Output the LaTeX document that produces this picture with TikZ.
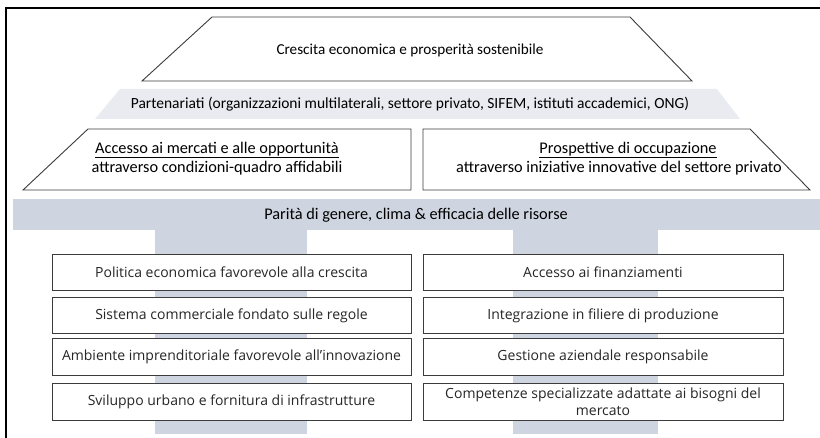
\documentclass[tikz,border=0pt]{standalone}
\usepackage{fontspec}
\setmainfont{Carlito}
\newfontfamily\boxfont{Open Sans}
\definecolor{pillargray}{HTML}{CFD5E0}
\definecolor{lightgray}{HTML}{E9EBF0}
\definecolor{linegray}{HTML}{3C3C3C}
\begin{document}
\begin{tikzpicture}[x=1pt,y=-1pt,
  edge/.style={draw=linegray, line width=0.9pt},
  card/.style={edge, fill=white},
  toptext/.style={font=\fontsize{15.2}{17}\selectfont, text=black, inner sep=0},
  midtext/.style={font=\fontsize{16.3}{18}\selectfont, text=black, inner sep=0},
  boxtext/.style={font=\boxfont\fontsize{14}{16.5}\selectfont, text=black!85, inner sep=0, align=center},
  lbox/.style={card, minimum width=359pt, minimum height=36pt, inner sep=1pt, boxtext},
  rbox/.style={card, minimum width=360pt, minimum height=36pt, inner sep=1pt, boxtext},
]
\useasboundingbox (0,0) rectangle (820,438);
% pillars and bands
\fill[pillargray] (155,229) rectangle (307,434);
\fill[pillargray] (513,229) rectangle (658,434);
\fill[pillargray] (13,199) rectangle (820,230);
\fill[lightgray] (120,89) -- (717,89) -- (740,119) -- (95,119) -- cycle;
% frame
\draw[black, line width=2pt] (6,438) -- (6,8) -- (820,8);
% top trapezoid
\draw[card] (212,17) -- (630,17) -- (692,81) -- (142,81) -- cycle;
\node[toptext] (top) at (410,50) {Crescita economica e prosperità sostenibile};
\node[toptext, font=\fontsize{15.5}{17}\selectfont] (part) at (410,104) {Partenariati (organizzazioni multilaterali, settore privato, SIFEM, istituti accademici, ONG)};
% middle trapezoids
\draw[card] (88,129) -- (411,129) -- (411,190) -- (23,190) -- cycle;
\draw[card] (423,129) -- (750,129) -- (810,190) -- (423,190) -- cycle;
\node[midtext] (acc1) at (217,150) {\underline{Accesso ai mercati e alle opportunità}};
\node[midtext] (acc2) at (217,168) {attraverso condizioni-quadro affidabili};
\node[midtext] (pro1) at (628,150) {\underline{Prospettive di occupazione}};
\node[midtext] (pro2) at (619,168) {attraverso iniziative innovative del settore privato};
% band text
\node[midtext] (par) at (416,215) {Parità di genere, clima \& efficacia delle risorse};
% boxes
\node[lbox] (l1) at (231.5,272) {Politica economica favorevole alla crescita};
\node[lbox] (l2) at (231.5,315.5) {Sistema commerciale fondato sulle regole};
\node[lbox, minimum height=37pt] (l3) at (231.5,357) {Ambiente imprenditoriale favorevole all’innovazione};
\node[lbox, minimum height=37pt] (l4) at (231.5,402) {Sviluppo urbano e fornitura di infrastrutture};
\node[rbox] (r1) at (603,272) {Accesso ai finanziamenti};
\node[rbox] (r2) at (603,315.5) {Integrazione in filiere di produzione};
\node[rbox, minimum height=37pt] (r3) at (603,357) {Gestione aziendale responsabile};
\node[rbox, minimum height=37pt] (r4) at (603,402) {Competenze specializzate adattate ai bisogni del\\mercato};
\end{tikzpicture}
\end{document}
